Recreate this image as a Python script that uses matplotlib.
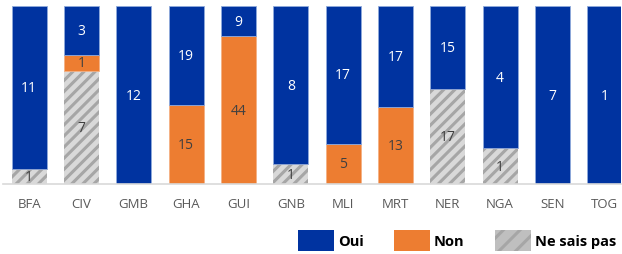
import matplotlib
matplotlib.use("Agg")
import matplotlib.pyplot as plt
import numpy as np
from matplotlib.patches import Patch

categories = ["BFA", "CIV", "GMB", "GHA", "GUI", "GNB", "MLI", "MRT", "NER", "NGA", "SEN", "TOG"]
oui = [11, 3, 12, 19, 9, 8, 17, 17, 15, 4, 7, 1]
non = [0, 1, 0, 15, 44, 0, 5, 13, 0, 0, 0, 0]
nsp = [1, 7, 0, 0, 0, 1, 0, 0, 17, 1, 0, 0]
series_names = ["Oui", "Non", "Ne sais pas"]

plt.rcParams['font.family'] = ['Open Sans', 'DejaVu Sans']
plt.rcParams['hatch.linewidth'] = 2.2
plt.rcParams['hatch.color'] = '#A6A6A6'

blue = '#0033A0'
orange = '#ED7D31'
gray_bg = '#D9D9D9'

fig = plt.figure(figsize=(6.22, 2.55), dpi=100)
ax = fig.add_axes([0.005, 0.2745, 0.993, 0.698])

x = np.arange(len(categories))
oui_a = np.array(oui, float)
non_a = np.array(non, float)
nsp_a = np.array(nsp, float)
tot = oui_a + non_a + nsp_a
p_nsp = nsp_a / tot * 100
p_non = non_a / tot * 100
p_oui = oui_a / tot * 100

w = 0.67
b1 = ax.bar(x, p_nsp, w, color=gray_bg, hatch='///', edgecolor='#A6A6A6', linewidth=0)
b2 = ax.bar(x, p_non, w, bottom=p_nsp, color=orange, edgecolor='#F4B183', linewidth=0.6)
b3 = ax.bar(x, p_oui, w, bottom=p_nsp + p_non, color=blue, edgecolor='#8FAADC', linewidth=0.6)

for i in range(len(categories)):
    if nsp[i]:
        ax.text(x[i], p_nsp[i] / 2, str(nsp[i]), ha='center', va='center', color='#404040', fontsize=10)
    if non[i]:
        ax.text(x[i], p_nsp[i] + p_non[i] / 2, str(non[i]), ha='center', va='center', color='#404040', fontsize=10)
    if oui[i]:
        ax.text(x[i], p_nsp[i] + p_non[i] + p_oui[i] / 2, str(oui[i]), ha='center', va='center', color='white', fontsize=10)

ax.set_xlim(-0.496, 11.305)
ax.set_ylim(0, 100)
ax.set_xticks(x)
ax.set_xticklabels(categories, color='#595959', fontsize=9.5)
ax.tick_params(axis='x', length=0, pad=9)
ax.set_yticks([])
for s in ['top', 'right', 'left']:
    ax.spines[s].set_visible(False)
ax.spines['bottom'].set_color('#D9D9D9')
ax.spines['bottom'].set_linewidth(1.2)

handles = [Patch(facecolor=blue, edgecolor='none'),
           Patch(facecolor=orange, edgecolor='none'),
           Patch(facecolor='#BFBFBF', hatch='//', edgecolor='#A6A6A6', linewidth=0)]
leg = fig.legend(handles, series_names, loc='center left', bbox_to_anchor=(0.479, 0.053), ncol=3,
                 frameon=False, handlelength=2.5, handleheight=1.85, columnspacing=2.06,
                 handletextpad=0.25, borderpad=0, borderaxespad=0,
                 prop={'weight': 'bold', 'size': 10.5})
for t in leg.get_texts():
    t.set_color('black')

fig.savefig('out.png', dpi=100)
